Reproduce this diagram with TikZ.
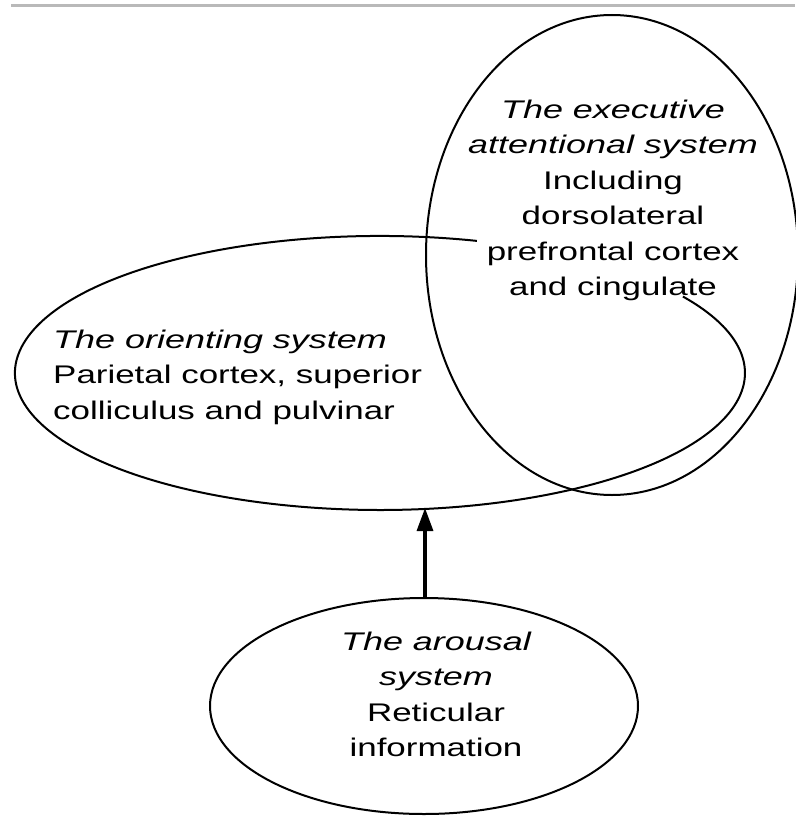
\documentclass[tikz,border=0pt]{standalone}
\usepackage{fontspec}
\setmainfont{Liberation Sans}[FakeStretch=1.37, ItalicFeatures={FakeStretch=1.41}]
\usetikzlibrary{arrows.meta}
\begin{document}
\begin{tikzpicture}[x=1pt,y=-1pt,
  outline/.style={draw=black, line width=2pt},
  txt/.style={inner sep=0pt, font=\fontsize{25.5}{35.5}\selectfont},
  conn/.style={line width=3.2pt, -{Triangle[length=23pt,width=16pt]}}]
\useasboundingbox (0,0) rectangle (795,816);
% top rule
\draw[gray!55, line width=3pt] (11,5.5) -- (795,5.5);
% executive attentional system
\draw[outline] (612,255) ellipse [x radius=186, y radius=240];
% orienting system (open arc, hidden inside the executive ellipse)
\draw[outline] (476.9,240.9) arc[start angle=-74.6, end angle=-393.9, x radius=365, y radius=137];
% arousal system
\draw[outline] (424,706) ellipse [x radius=214, y radius=108];
% texts
\node[txt, anchor=base] (exec) at (613,118)
  {\begin{tabular}[t]{@{}c@{}}\itshape The executive\\ \itshape attentional system\\ Including\\ dorsolateral\\ prefrontal cortex\\ and cingulate\end{tabular}};
\node[txt, anchor=base west] (orient) at (53,348)
  {\begin{tabular}[t]{@{}l@{}}\itshape The orienting system\\ Parietal cortex, superior\\ colliculus and pulvinar\end{tabular}};
\node[txt, anchor=base] (arousal) at (436,650)
  {\begin{tabular}[t]{@{}c@{}}\itshape The arousal\\ \itshape system\\ Reticular\\ information\end{tabular}};
% connector
\coordinate (arTop) at (425,598);
\coordinate (orBot) at (425,508);
\draw[conn] (arTop) -- (orBot);
\end{tikzpicture}
\end{document}
